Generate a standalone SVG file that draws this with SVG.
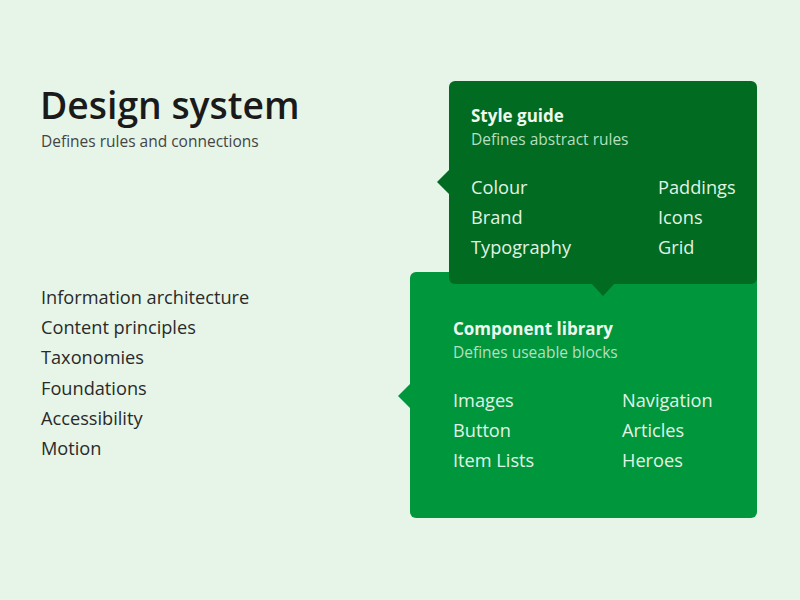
<svg xmlns="http://www.w3.org/2000/svg" width="800" height="600" viewBox="0 0 800 600">
<style>
text{font-family:"Open Sans","Noto Sans",sans-serif}
.h1{font-size:37.3px;font-weight:600;fill:#1a1a1a}
.sub{font-size:15.5px;fill:#444}
.item{font-size:18.2px;fill:#2a2a2a}
.bt{font-size:17px;font-weight:bold;fill:#eef8ef}
.bs{font-size:15.5px;fill:#b6dfc0}
.bi{font-size:18.2px;fill:#e2f3e5}
</style>
<rect width="800" height="600" fill="#e6f5e8"/>
<g id="title">
<text class="h1" x="40" y="119">Design system</text>
<text class="sub" x="41" y="147">Defines rules and connections</text>
</g>
<g id="list">
<text class="item" x="41" y="304">Information architecture</text>
<text class="item" x="41" y="334">Content principles</text>
<text class="item" x="41" y="364">Taxonomies</text>
<text class="item" x="41" y="395">Foundations</text>
<text class="item" x="41" y="425">Accessibility</text>
<text class="item" x="41" y="455">Motion</text>
</g>
<g id="component-library">
<rect x="410" y="272" width="347" height="246" rx="6" fill="#00963c"/>
<path d="M410 384 L398 396 L410 408 Z" fill="#00963c"/>
<text class="bt" x="453" y="335">Component library</text>
<text class="bs" x="453" y="358">Defines useable blocks</text>
<text class="bi" x="453" y="407">Images</text>
<text class="bi" x="453" y="437">Button</text>
<text class="bi" x="453" y="467">Item Lists</text>
<text class="bi" x="622" y="407">Navigation</text>
<text class="bi" x="622" y="437">Articles</text>
<text class="bi" x="622" y="467">Heroes</text>
</g>
<g id="style-guide">
<rect x="449" y="81" width="308" height="203" rx="6" fill="#006b21"/>
<path d="M449 170 L437 182 L449 194 Z" fill="#006b21"/>
<path d="M591 283 L603 296 L615 283 Z" fill="#006b21"/>
<text class="bt" x="471" y="122">Style guide</text>
<text class="bs" x="471" y="145">Defines abstract rules</text>
<text class="bi" x="471" y="194">Colour</text>
<text class="bi" x="471" y="224">Brand</text>
<text class="bi" x="471" y="254">Typography</text>
<text class="bi" x="658" y="194">Paddings</text>
<text class="bi" x="658" y="224">Icons</text>
<text class="bi" x="658" y="254">Grid</text>
</g>
<g id="connectors"></g>
</svg>
